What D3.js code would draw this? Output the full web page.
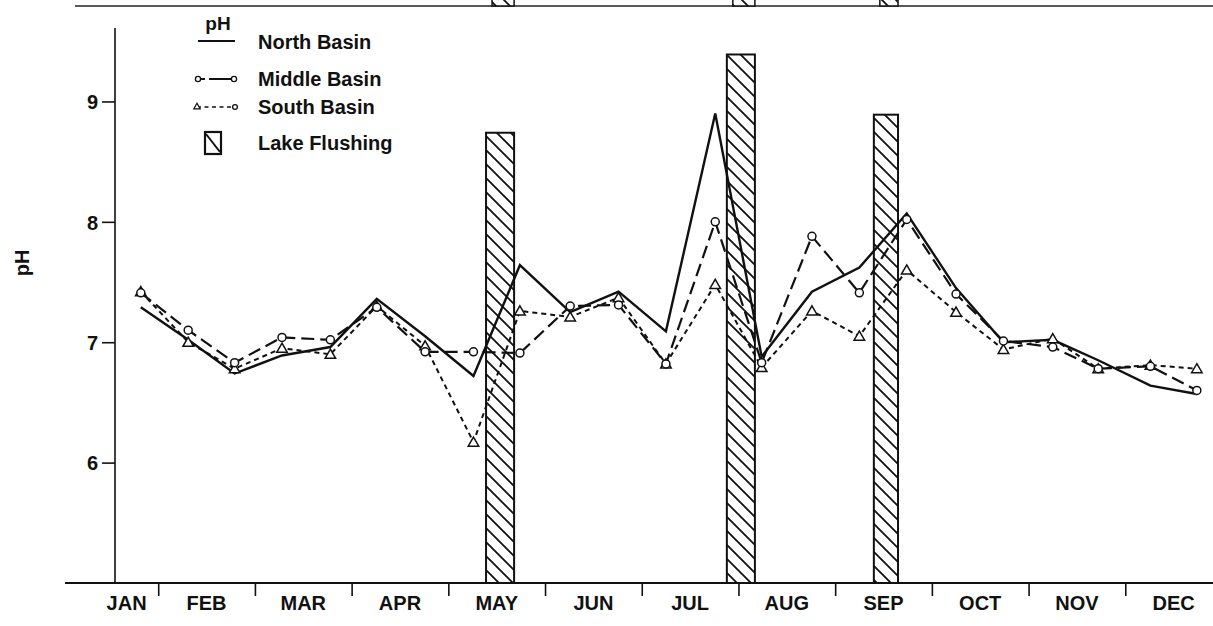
<!DOCTYPE html>
<html>
<head>
<meta charset="utf-8">
<script src="https://cdn.jsdelivr.net/npm/d3@7"></script>
<style>
  html, body { margin: 0; padding: 0; background: #fff; }
  svg { display: block; }
  text { font-family: "Liberation Sans", Arial, Helvetica, sans-serif; font-weight: bold; fill: #111; }
</style>
</head>
<body>
<script>
// ---------------- data ----------------
const months = ["JAN","FEB","MAR","APR","MAY","JUN","JUL","AUG","SEP","OCT","NOV","DEC"];
const yTicks = [6, 7, 8, 9];
// sampling times, in months from 1 January (twice monthly)
const sampleMonths = [0.82, 1.31, 1.79, 2.28, 2.78, 3.26, 3.76, 4.26, 4.74, 5.26, 5.76, 6.25,
                      6.76, 7.24, 7.76, 8.25, 8.74, 9.25, 9.74, 10.25, 10.72, 11.26, 11.74];
const northPH  = [7.29, 7.02, 6.74, 6.89, 6.96, 7.36, 7.05, 6.72, 7.64, 7.25, 7.42, 7.09,
                  8.90, 6.88, 7.42, 7.62, 8.07, 7.45, 7.00, 7.02, 6.85, 6.64, 6.57];
const middlePH = [7.41, 7.10, 6.83, 7.04, 7.02, 7.29, 6.92, 6.92, 6.91, 7.30, 7.31, 6.82,
                  8.00, 6.83, 7.88, 7.41, 8.02, 7.40, 7.01, 6.96, 6.78, 6.80, 6.60];
const southPH  = [7.42, 7.00, 6.78, 6.95, 6.90, 7.30, 6.97, 6.17, 7.26, 7.21, 7.37, 6.82,
                  7.48, 6.79, 7.26, 7.05, 7.60, 7.25, 6.94, 7.03, 6.78, 6.81, 6.78];
// lake flushing periods (months from 1 January) and drawn height (pH units)
const flushStart = [4.39, 6.88, 8.40];
const flushEnd   = [4.68, 7.17, 8.65];
const flushTop   = [8.74, 9.39, 8.89];
const legendLabels = ["North Basin", "Middle Basin", "South Basin", "Lake Flushing"];

// ---------------- layout ----------------
const W = 1213, H = 626;
const svg = d3.select("body").append("svg").attr("width", W).attr("height", H);

const x = d3.scaleLinear().domain([0, 12]).range([61.5, 1222]);
const y = d3.scaleLinear().domain([5, 9.61]).range([583, 28]);
const axisX = 115;

const defs = svg.append("defs");
const pat = defs.append("pattern").attr("id", "hatch")
  .attr("patternUnits", "userSpaceOnUse").attr("width", 14).attr("height", 14);
pat.append("rect").attr("width", 14).attr("height", 14).attr("fill", "#fff");
pat.append("path").attr("d", "M-2,-2 L16,16 M-9,5 L9,23 M5,-9 L23,9")
  .attr("stroke", "#111").attr("stroke-width", 1.8);

// remnant of previous figure at the top edge
svg.append("line").attr("x1", 75).attr("x2", W).attr("y1", 6).attr("y2", 6)
  .attr("stroke", "#222").attr("stroke-width", 1.6);
svg.append("g").selectAll("rect").data(flushStart).join("rect")
  .attr("x", (d, i) => x(d) + 6)
  .attr("width", (d, i) => x(flushEnd[i]) - x(d) - 6)
  .attr("y", -2).attr("height", 8)
  .attr("fill", "url(#hatch)").attr("stroke", "#111").attr("stroke-width", 1.5);

// ---------------- flushing bars ----------------
svg.append("g").selectAll("rect").data(flushStart).join("rect")
  .attr("x", d => x(d))
  .attr("width", (d, i) => x(flushEnd[i]) - x(d))
  .attr("y", (d, i) => y(flushTop[i]))
  .attr("height", (d, i) => y(5) - y(flushTop[i]))
  .attr("fill", "url(#hatch)").attr("stroke", "#111").attr("stroke-width", 2);

// ---------------- axes ----------------
const yAxis = d3.axisLeft(y).tickValues(yTicks).tickFormat(d3.format("d"))
  .tickSize(13).tickPadding(4).tickSizeOuter(0);
const gy = svg.append("g").attr("transform", `translate(${axisX},0)`).call(yAxis);
gy.select(".domain").remove();
gy.selectAll(".tick line").attr("stroke", "#111").attr("stroke-width", 1.6);
gy.selectAll(".tick text").style("font-size", "20px").attr("dy", "0.36em");
svg.append("line").attr("x1", axisX).attr("x2", axisX).attr("y1", y(9.61)).attr("y2", y(5))
  .attr("stroke", "#111").attr("stroke-width", 1.6);

const xAxis = d3.axisBottom(x).tickValues(d3.range(1, 12)).tickFormat("").tickSize(13).tickSizeOuter(0);
const gx = svg.append("g").attr("transform", `translate(0,${y(5)})`).call(xAxis);
gx.select(".domain").remove();
gx.selectAll(".tick line").attr("stroke", "#111").attr("stroke-width", 1.6);
svg.append("line").attr("x1", 65).attr("x2", W).attr("y1", y(5)).attr("y2", y(5))
  .attr("stroke", "#111").attr("stroke-width", 1.8);

svg.append("g").selectAll("text").data(months).join("text")
  .attr("x", (d, i) => i === 0 ? (axisX + x(1)) / 2 - 10 : x(i + 0.5))
  .attr("y", y(5) + 27)
  .attr("text-anchor", "middle")
  .style("font-size", "20px")
  .text(d => d);

svg.append("text").attr("transform", "translate(29,263) rotate(-90)")
  .attr("text-anchor", "middle").style("font-size", "20px").text("pH");

// ---------------- series ----------------
const mk = vals => sampleMonths.map((m, i) => ({ m, v: vals[i] }));
const line = d3.line().x(d => x(d.m)).y(d => y(d.v));

svg.append("path").datum(mk(southPH)).attr("d", line)
  .attr("fill", "none").attr("stroke", "#111").attr("stroke-width", 2)
  .attr("stroke-dasharray", "5,4");
svg.append("path").datum(mk(middlePH)).attr("d", line)
  .attr("fill", "none").attr("stroke", "#111").attr("stroke-width", 2.2)
  .attr("stroke-dasharray", "13,6");
svg.append("path").datum(mk(northPH)).attr("d", line)
  .attr("fill", "none").attr("stroke", "#111").attr("stroke-width", 2.4);

const tri = d3.symbol().type(d3.symbolTriangle).size(48);
svg.append("g").selectAll("path").data(mk(southPH)).join("path")
  .attr("transform", d => `translate(${x(d.m)},${y(d.v) + 1})`)
  .attr("d", tri).attr("fill", "#fff").attr("stroke", "#111").attr("stroke-width", 1.5);
svg.append("g").selectAll("circle").data(mk(middlePH)).join("circle")
  .attr("cx", d => x(d.m)).attr("cy", d => y(d.v)).attr("r", 4)
  .attr("fill", "#fff").attr("stroke", "#111").attr("stroke-width", 1.5);

// ---------------- legend ----------------
const lg = svg.append("g");
lg.append("text").attr("x", 218).attr("y", 30).attr("text-anchor", "middle")
  .style("font-size", "19px").text("pH");
const rowY = [42, 79, 107, 143];
lg.selectAll("text.lab").data(legendLabels).join("text").attr("class", "lab")
  .attr("x", 258).attr("y", (d, i) => rowY[i] + 7).style("font-size", "20px").text(d => d);
// north
lg.append("line").attr("x1", 198).attr("x2", 235).attr("y1", rowY[0] - 1).attr("y2", rowY[0] - 1)
  .attr("stroke", "#111").attr("stroke-width", 1.8);
// middle
lg.append("line").attr("x1", 198).attr("x2", 234).attr("y1", rowY[1]).attr("y2", rowY[1])
  .attr("stroke", "#111").attr("stroke-width", 1.8).attr("stroke-dasharray", "7,4,30");
lg.selectAll("circle.m").data([198, 234]).join("circle").attr("class", "m")
  .attr("cx", d => d).attr("cy", rowY[1]).attr("r", 2.6)
  .attr("fill", "#fff").attr("stroke", "#111").attr("stroke-width", 1.3);
// south
lg.append("line").attr("x1", 197).attr("x2", 234).attr("y1", rowY[2]).attr("y2", rowY[2])
  .attr("stroke", "#111").attr("stroke-width", 1.6).attr("stroke-dasharray", "4,3.5");
lg.append("path").attr("transform", `translate(197,${rowY[2]})`)
  .attr("d", d3.symbol().type(d3.symbolTriangle).size(18))
  .attr("fill", "#fff").attr("stroke", "#111").attr("stroke-width", 1.2);
lg.append("circle").attr("cx", 235).attr("cy", rowY[2]).attr("r", 2.4)
  .attr("fill", "#fff").attr("stroke", "#111").attr("stroke-width", 1.3);
// flushing
lg.append("rect").attr("x", 205).attr("y", rowY[3] - 11).attr("width", 16).attr("height", 22)
  .attr("fill", "#fff").attr("stroke", "#111").attr("stroke-width", 2.2);
lg.append("line").attr("x1", 206).attr("y1", rowY[3] - 9).attr("x2", 220).attr("y2", rowY[3] + 9)
  .attr("stroke", "#111").attr("stroke-width", 2);
</script>
</body>
</html>
